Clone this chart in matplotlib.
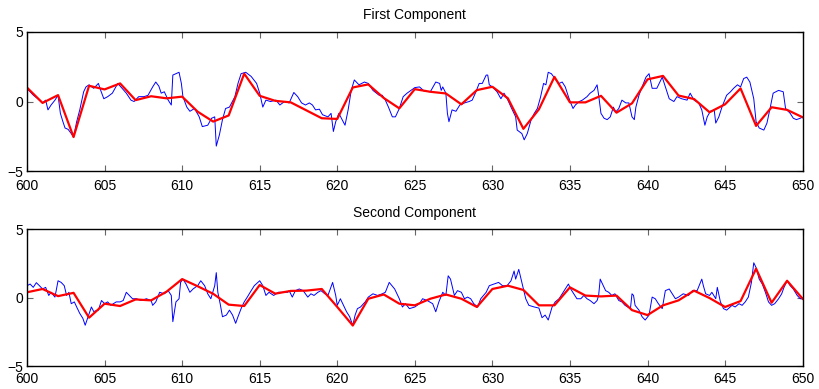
import matplotlib
matplotlib.use("Agg")
import matplotlib.pyplot as plt

plt.rcParams["font.family"] = ["Liberation Sans", "DejaVu Sans"]
plt.rcParams["font.size"] = 10

# Red fitted line, one value per integer step
knots = list(range(600, 651))
red_first = [1.0, -0.1, 0.46, -2.55, 1.13, 0.87, 1.3, 0.1, 0.38, 0.23,
             0.35, -0.73, -1.44, -1.0, 2.0, 0.41, 0.05, -0.06, -0.63, -1.2,
             -1.25, 1.01, 1.23, 0.25, -0.49, 0.89, 0.7, 0.58, -0.2, 0.82,
             1.06, 0.23, -1.96, -0.56, 1.77, -0.06, -0.06, 0.41, -0.8, -0.13,
             1.59, 1.84, 0.43, 0.18, -0.77, -0.2, 0.94, -1.75, -0.41, -0.6,
             -1.13]
red_second = [0.4, 0.64, 0.12, 0.36, -1.45, -0.43, -0.6, -0.12, -0.19, 0.45,
              1.36, 0.84, 0.29, -0.5, -0.6, 0.93, 0.3, 0.5, 0.52, 0.64,
              -0.67, -2.02, -0.07, 0.24, -0.43, -0.55, -0.07, 0.24, -0.07, -0.67,
              0.64, 0.88, 0.57, -0.55, -0.55, 0.76, 0.16, 0.1, 0.16, -0.9,
              -1.26, -0.55, -0.19, 0.52, -0.02, -0.67, -0.24, 2.12, -0.36, 1.24,
              -0.07]

# Blue raw signal
t_first = [600.0, 600.4, 600.7, 601.0, 601.2, 601.35, 601.55, 601.8, 602.0, 602.15,
           602.3, 602.45, 602.65, 602.85, 603.0, 603.2, 603.4, 603.65, 603.8, 604.0,
           604.3, 604.6, 604.75, 604.95, 605.2, 605.5, 605.85, 606.05, 606.4, 606.7,
           606.9, 607.2, 607.55, 607.8, 608.1, 608.3, 608.5, 608.65, 608.85, 609.1,
           609.3, 609.4, 609.6, 609.8, 609.95, 610.05, 610.3, 610.5, 610.8, 611.1,
           611.3, 611.65, 611.9, 612.1, 612.2, 612.4, 612.6, 612.8, 613.05, 613.4,
           613.6, 613.8, 614.1, 614.45, 614.8, 615.0, 615.2, 615.4, 615.7, 616.05,
           616.3, 616.6, 616.9, 617.2, 617.45, 617.7, 617.95, 618.2, 618.4, 618.6,
           618.85, 619.05, 619.4, 619.6, 619.75, 619.9, 620.1, 620.5, 620.7, 620.9,
           621.1, 621.4, 621.75, 622.0, 622.3, 622.7, 622.9, 623.1, 623.3, 623.55,
           623.75, 624.0, 624.25, 624.5, 624.75, 625.0, 625.3, 625.6, 626.0, 626.35,
           626.6, 626.7, 626.8, 627.0, 627.1, 627.2, 627.4, 627.65, 627.9, 628.2,
           628.5, 628.7, 628.9, 629.15, 629.35, 629.6, 629.7, 629.8, 630.0, 630.3,
           630.55, 630.75, 631.0, 631.2, 631.5, 631.6, 631.9, 632.05, 632.25, 632.5,
           632.7, 632.9, 633.1, 633.3, 633.45, 633.6, 633.8, 634.1, 634.3, 634.5,
           634.7, 634.9, 635.05, 635.2, 635.35, 635.6, 635.8, 636.1, 636.3, 636.55,
           636.75, 636.85, 637.0, 637.2, 637.4, 637.6, 637.8, 637.95, 638.15, 638.35,
           638.6, 638.8, 639.0, 639.15, 639.25, 639.45, 639.65, 639.9, 640.1, 640.3,
           640.6, 640.95, 641.15, 641.4, 641.7, 641.9, 642.2, 642.55, 642.75, 643.0,
           643.3, 643.5, 643.7, 643.85, 644.05, 644.3, 644.4, 644.6, 644.8, 645.1,
           645.35, 645.55, 645.8, 646.0, 646.2, 646.4, 646.6, 646.85, 647.0, 647.2,
           647.5, 647.7, 647.9, 648.1, 648.45, 648.75, 648.9, 649.2, 649.4, 649.6,
           649.85, 650.0]
blue_first = [0.94, 0.46, 0.2, -0.1, 0.1, -0.6, -0.25, 0.1, 0.45, -0.85,
              -1.4, -1.9, -2.0, -2.3, -2.55, -1.45, -0.6, 0.7, 1.05, 1.2,
              0.95, 1.3, 0.8, 0.2, 0.35, 0.6, 1.3, 1.05, 0.6, 0.1,
              0.0, 0.35, 0.35, 0.45, 1.05, 1.4, 1.1, 0.6, 0.7, 0.1,
              -0.25, 1.9, 2.0, 2.1, 1.3, 0.35, -0.4, -0.7, -0.5, -1.1,
              -1.8, -1.7, -1.2, -1.1, -3.2, -2.4, -1.3, -0.5, -0.4, 0.35,
              1.3, 2.0, 2.1, 1.8, 1.3, 0.6, -0.4, 0.1, 0.0, 0.1,
              -0.25, 0.0, -0.1, 0.65, 0.35, -0.1, -0.25, -0.1, -0.25, -0.6,
              -0.55, -0.95, -1.1, -0.85, -2.15, -1.45, -0.85, -1.7, -0.6, 0.8,
              1.55, 1.2, 1.4, 1.3, 0.8, 0.45, 0.45, 0.1, -0.4, -1.1,
              -1.1, -0.5, 0.35, 0.6, 0.8, 1.0, 1.05, 0.75, 0.7, 1.4,
              1.3, 0.8, 1.05, 0.6, -0.85, -1.45, -0.6, -0.7, -0.25, -0.1,
              0.0, 0.1, 0.6, 1.3, 1.3, 1.9, 1.9, 1.2, 1.05, 0.7,
              0.2, 0.6, 0.1, -0.4, -1.1, -2.05, -2.3, -2.75, -2.3, -1.3,
              -0.85, -0.5, 0.3, 1.3, 1.2, 2.1, 2.0, 1.55, 1.3, 1.4,
              1.05, 0.35, -0.1, -0.5, -0.25, 0.0, 0.1, 0.35, 0.6, 0.8,
              1.2, 0.45, -0.85, -1.2, -1.3, -1.1, -0.4, -0.75, -0.5, 0.1,
              -0.1, -0.1, -1.1, -1.3, -0.4, 0.45, 1.05, 1.75, 2.0, 0.95,
              0.95, 1.75, 1.05, 0.2, 0.0, 0.35, 0.2, 0.1, 0.6, 0.1,
              -0.1, -0.6, -1.7, -1.1, -0.7, -0.6, -1.55, -1.1, -0.4, 0.45,
              0.7, 0.95, 1.2, 1.05, 1.65, 1.75, 1.4, 0.2, -1.45, -1.9,
              -2.05, -1.55, -0.5, 0.6, 0.8, 0.7, -0.5, -0.85, -1.2, -1.3,
              -1.2, -1.1]

t_second = [600.0, 600.2, 600.4, 600.6, 600.8, 601.0, 601.2, 601.4, 601.55, 601.8,
            602.0, 602.2, 602.4, 602.55, 602.7, 602.85, 603.05, 603.2, 603.4, 603.6,
            603.75, 603.9, 604.15, 604.3, 604.6, 604.8, 605.0, 605.2, 605.4, 605.75,
            606.0, 606.2, 606.4, 606.6, 606.8, 607.05, 607.35, 607.7, 608.0, 608.1,
            608.3, 608.55, 608.85, 609.1, 609.3, 609.4, 609.6, 609.8, 609.9, 610.05,
            610.25, 610.5, 610.7, 611.0, 611.2, 611.45, 611.65, 611.85, 612.1, 612.2,
            612.3, 612.45, 612.6, 612.85, 613.05, 613.25, 613.45, 613.6, 613.8, 614.0,
            614.2, 614.45, 614.65, 615.0, 615.2, 615.4, 615.6, 615.9, 616.2, 616.5,
            616.8, 616.9, 617.1, 617.3, 617.55, 617.8, 618.1, 618.3, 618.5, 618.75,
            618.95, 619.2, 619.4, 619.7, 619.9, 620.0, 620.2, 620.4, 620.6, 620.8,
            621.0, 621.15, 621.3, 621.5, 621.8, 622.0, 622.3, 622.6, 622.9, 623.1,
            623.35, 623.7, 624.0, 624.2, 624.4, 624.65, 625.0, 625.3, 625.5, 625.8,
            626.15, 626.35, 626.55, 626.8, 627.0, 627.15, 627.3, 627.55, 627.75, 628.0,
            628.2, 628.4, 628.6, 628.8, 629.05, 629.25, 629.6, 629.8, 630.1, 630.4,
            630.65, 630.95, 631.2, 631.4, 631.5, 631.7, 631.95, 632.15, 632.35, 632.7,
            633.0, 633.2, 633.4, 633.6, 633.85, 634.05, 634.3, 634.5, 634.7, 634.9,
            635.05, 635.25, 635.45, 635.7, 635.9, 636.1, 636.3, 636.55, 636.75, 636.85,
            636.95, 637.05, 637.3, 637.5, 637.7, 637.9, 638.15, 638.35, 638.55, 638.9,
            639.0, 639.1, 639.2, 639.45, 639.65, 639.85, 640.1, 640.3, 640.5, 640.7,
            640.95, 641.15, 641.4, 641.6, 641.8, 642.0, 642.3, 642.65, 642.9, 643.2,
            643.5, 643.6, 643.75, 644.0, 644.15, 644.4, 644.5, 644.7, 644.9, 645.1,
            645.45, 645.65, 645.9, 646.1, 646.3, 646.5, 646.7, 646.85, 647.0, 647.2,
            647.4, 647.6, 647.8, 648.0, 648.2, 648.45, 648.65, 648.8, 649.0, 649.2,
            649.4, 649.65, 649.85, 650.0]
blue_second = [0.88, 1.0, 0.76, 1.1, 0.88, 0.64, 0.76, 0.17, 0.4, 0.05,
               1.24, 1.12, 0.88, 0.17, 0.4, -0.43, -0.3, -0.67, -1.14, -1.5,
               -2.0, -1.5, -0.67, -1.0, -0.9, -0.2, -0.43, -0.3, -0.55, -0.3,
               -0.3, -0.2, 0.4, 0.17, -0.07, -0.07, -0.2, -0.07, -0.2, -0.55,
               -0.3, 0.4, 0.29, 0.52, 0.17, -1.74, -0.3, -0.07, 1.12, 1.36,
               1.0, 0.4, 0.64, 0.88, 1.24, 0.88, 0.29, -0.07, 0.88, 1.83,
               0.4, -0.43, -1.38, -1.26, -0.9, -1.26, -1.86, -1.38, -0.79, -0.3,
               0.05, 0.52, 0.88, 1.24, 0.88, 0.17, 0.4, 0.17, 0.4, 0.4,
               0.4, 0.52, 0.05, 0.52, 0.64, 0.52, 0.05, 0.29, 0.17, 0.4,
               0.52, 0.29, 0.17, 1.12, 0.17, -0.55, -0.07, -0.55, -1.02, -1.38,
               -2.02, -1.26, -0.79, -0.67, -0.3, 0.05, 0.29, 0.17, 0.29, 0.4,
               1.12, 0.64, -0.07, -0.67, -0.43, -0.79, -0.67, -0.43, -0.07, -0.2,
               -0.43, -1.02, -0.3, 0.4, 0.17, 1.6, 1.36, 0.17, 0.52, 0.4,
               -0.07, 0.05, -0.07, -0.43, -0.67, -0.07, 0.4, 0.88, 1.0, 1.12,
               0.88, 0.88, 1.24, 1.95, 1.36, 2.07, 0.88, -0.07, -0.55, -0.67,
               -0.75, -1.45, -1.26, -1.62, -0.67, -0.3, -0.07, 0.29, 0.64, 1.0,
               0.64, 0.29, -0.07, -0.07, 0.17, -0.07, -0.2, -0.43, -0.2, 0.17,
               1.36, 1.12, 0.52, 0.4, 0.17, 0.29, -0.2, -0.3, -0.55, -0.79,
               0.29, 0.17, -0.55, -0.9, -1.38, -1.62, -1.26, 0.05, -0.07, -0.43,
               -0.79, 0.52, 0.64, 0.29, -0.07, 0.05, 0.29, 0.17, 0.52, 0.52,
               1.36, 0.88, 0.29, 0.17, 0.4, -0.07, 0.76, -0.3, -0.79, -0.9,
               -0.55, -0.67, -0.43, -0.55, -0.3, 0.05, 1.12, 2.55, 2.2, 1.36,
               1.0, 0.4, -0.3, -0.55, -0.43, -0.07, 0.29, 0.76, 1.24, 0.88,
               0.64, 0.17, -0.07, -0.07]

titles = ["First Component", "Second Component"]
x_ticks = list(range(600, 651, 5))
y_ticks = [-5, 0, 5]

fig = plt.figure(figsize=(8.19, 3.89), dpi=100)
ax1 = fig.add_axes([0.033, 0.560, 0.947, 0.358])
ax2 = fig.add_axes([0.033, 0.058, 0.947, 0.353])

panels = [(ax1, t_first, blue_first, red_first, titles[0], 6),
          (ax2, t_second, blue_second, red_second, titles[1], 4)]

for ax, t, blue, red, title, xpad in panels:
    ax.plot(t, blue, color="#0000ff", linewidth=0.7)
    ax.plot(knots, red, color="#ff0000", linewidth=1.6)
    ax.set_xlim(600, 650)
    ax.set_ylim(-5, 5)
    ax.set_xticks(x_ticks)
    ax.set_yticks(y_ticks)
    ax.tick_params(direction="in", length=4, top=True, right=True,
                   color="#666666", labelsize=10)
    ax.tick_params(axis="x", pad=xpad)
    ax.tick_params(axis="y", pad=3)
    for s in ax.spines.values():
        s.set_linewidth(1.0)
        s.set_color("black")
    ax.set_title(title, fontsize=10, pad=9)

fig.savefig("out.png", dpi=100)
